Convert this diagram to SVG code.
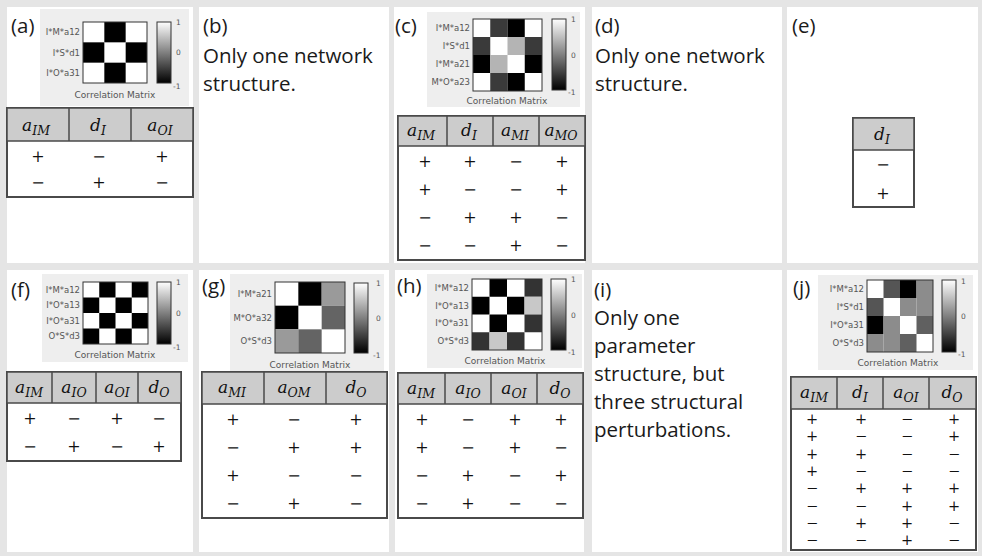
<svg xmlns="http://www.w3.org/2000/svg" width="982" height="556" viewBox="0 0 982 556">
<defs>
<linearGradient id="cb" x1="0" y1="0" x2="0" y2="1">
<stop offset="0" stop-color="#ffffff"/>
<stop offset="0.5" stop-color="#808080"/>
<stop offset="1" stop-color="#000000"/>
</linearGradient>
<style>
.panel{fill:#ffffff}
.cmbg{fill:#eeeeee}
.mat{fill:#ffffff;stroke:none}
.mo{fill:none;stroke:#333;stroke-width:1}
.cbar{fill:url(#cb);stroke:#333;stroke-width:1}
.rl{font-family:"DejaVu Sans",sans-serif;font-size:8.5px;fill:#555;text-anchor:end}
.tk{font-family:"DejaVu Sans",sans-serif;font-size:7.5px;fill:#555}
.cm{font-family:"DejaVu Sans",sans-serif;font-size:9px;fill:#555;text-anchor:middle}
.lab{font-family:"Open Sans","Liberation Sans",sans-serif;font-size:20.5px;fill:#1a1a1a}
.tb{fill:#ffffff;stroke:#4a4a4a;stroke-width:2}
.th{fill:#cccccc;stroke:#4a4a4a;stroke-width:1.5}
.dv{stroke:#4a4a4a;stroke-width:1.5}
.h{font-family:"DejaVu Serif","Liberation Serif",serif;font-style:italic;font-size:17px;fill:#111;text-anchor:middle}
.s{font-size:12.5px}
.v{font-family:"DejaVu Serif","Liberation Serif",serif;font-size:16px;fill:#111;text-anchor:middle}
.vs{font-family:"DejaVu Serif","Liberation Serif",serif;font-size:14.5px;fill:#111;text-anchor:middle}
</style>
</defs>
<rect x="0" y="0" width="982" height="556" fill="#e5e5e5"/>

<!-- (a) -->
<g id="panel-a">
<rect class="panel" x="7" y="7" width="186" height="256"/>
<rect class="cmbg" x="40" y="9" width="149" height="97"/>
<rect class="mat" x="83" y="22" width="64" height="61"/>
<g fill="#000">
<rect x="104.33" y="22" width="21.33" height="20.33"/>
<rect x="83" y="42.33" width="21.33" height="20.33"/>
<rect x="125.67" y="42.33" width="21.33" height="20.33"/>
<rect x="104.33" y="62.67" width="21.33" height="20.33"/>
</g>
<rect class="mo" x="83" y="22" width="64" height="61"/>
<rect class="cbar" x="157" y="22" width="14" height="61"/>
<text class="tk" x="176" y="25">1</text>
<text class="tk" x="176" y="55">0</text>
<text class="tk" x="173" y="89">-1</text>
<text class="rl" x="80" y="35">I*M*a12</text>
<text class="rl" x="80" y="55.5">I*S*d1</text>
<text class="rl" x="80" y="76">I*O*a31</text>
<text class="cm" x="115" y="98">Correlation Matrix</text>
<text class="lab" x="11" y="33">(a)</text>
<rect class="tb" x="7" y="108" width="186" height="89"/>
<rect class="th" x="7" y="108" width="186" height="33"/>
<line class="dv" x1="69" y1="108" x2="69" y2="141"/>
<line class="dv" x1="131" y1="108" x2="131" y2="141"/>
<text class="h" x="36" y="131">a<tspan class="s" dy="4">IM</tspan></text>
<text class="h" x="98" y="131">d<tspan class="s" dy="4">I</tspan></text>
<text class="h" x="160" y="131">a<tspan class="s" dy="4">OI</tspan></text>
<text class="v" x="38" y="162">+</text><text class="v" x="99" y="162">−</text><text class="v" x="162" y="162">+</text>
<text class="v" x="38" y="188">−</text><text class="v" x="99" y="188">+</text><text class="v" x="162" y="188">−</text>
</g>

<!-- (b) -->
<g id="panel-b">
<rect class="panel" x="199" y="7" width="190" height="256"/>
<text class="lab" x="203" y="33">(b)</text>
<text class="lab" x="203" y="63">Only one network</text>
<text class="lab" x="203" y="91">structure.</text>
</g>

<!-- (c) -->
<g id="panel-c">
<rect class="panel" x="394" y="7" width="191" height="256"/>
<rect class="cmbg" x="427" y="12" width="153" height="95"/>
<rect class="mat" x="473" y="19" width="69" height="72"/>
<rect x="490.25" y="19" width="17.25" height="18" fill="#3a3a3a"/>
<rect x="507.5" y="19" width="17.25" height="18" fill="#000"/>
<rect x="473" y="37" width="17.25" height="18" fill="#3a3a3a"/>
<rect x="507.5" y="37" width="17.25" height="18" fill="#b4b4b4"/>
<rect x="524.75" y="37" width="17.25" height="18" fill="#3a3a3a"/>
<rect x="473" y="55" width="17.25" height="18" fill="#000"/>
<rect x="490.25" y="55" width="17.25" height="18" fill="#b4b4b4"/>
<rect x="524.75" y="55" width="17.25" height="18" fill="#000"/>
<rect x="490.25" y="73" width="17.25" height="18" fill="#3a3a3a"/>
<rect x="507.5" y="73" width="17.25" height="18" fill="#000"/>
<rect class="mo" x="473" y="19" width="69" height="72"/>
<rect class="cbar" x="552" y="19" width="14" height="71"/>
<text class="tk" x="571" y="22">1</text>
<text class="tk" x="571" y="58">0</text>
<text class="tk" x="568" y="95">-1</text>
<text class="rl" x="470" y="31">I*M*a12</text>
<text class="rl" x="470" y="49">I*S*d1</text>
<text class="rl" x="470" y="67">I*M*a21</text>
<text class="rl" x="470" y="85">M*O*a23</text>
<text class="cm" x="507" y="104">Correlation Matrix</text>
<text class="lab" x="395" y="33">(c)</text>
<rect class="tb" x="398" y="116" width="187" height="144"/>
<rect class="th" x="398" y="116" width="187" height="30"/>
<line class="dv" x1="447" y1="116" x2="447" y2="146"/>
<line class="dv" x1="493" y1="116" x2="493" y2="146"/>
<line class="dv" x1="539" y1="116" x2="539" y2="146"/>
<text class="h" x="421" y="136">a<tspan class="s" dy="4">IM</tspan></text>
<text class="h" x="469" y="136">d<tspan class="s" dy="4">I</tspan></text>
<text class="h" x="515" y="136">a<tspan class="s" dy="4">MI</tspan></text>
<text class="h" x="561" y="136">a<tspan class="s" dy="4">MO</tspan></text>
<text class="v" x="425" y="167">+</text><text class="v" x="470" y="167">+</text><text class="v" x="516" y="167">−</text><text class="v" x="562" y="167">+</text>
<text class="v" x="425" y="195">+</text><text class="v" x="470" y="195">−</text><text class="v" x="516" y="195">−</text><text class="v" x="562" y="195">+</text>
<text class="v" x="425" y="223">−</text><text class="v" x="470" y="223">+</text><text class="v" x="516" y="223">+</text><text class="v" x="562" y="223">−</text>
<text class="v" x="425" y="251">−</text><text class="v" x="470" y="251">−</text><text class="v" x="516" y="251">+</text><text class="v" x="562" y="251">−</text>
</g>

<!-- (d) -->
<g id="panel-d">
<rect class="panel" x="592" y="7" width="190" height="256"/>
<text class="lab" x="595" y="33">(d)</text>
<text class="lab" x="595" y="63">Only one network</text>
<text class="lab" x="595" y="91">structure.</text>
</g>

<!-- (e) -->
<g id="panel-e">
<rect class="panel" x="787" y="7" width="191" height="256"/>
<text class="lab" x="792" y="33">(e)</text>
<rect class="tb" x="853" y="118" width="61" height="89"/>
<rect class="th" x="853" y="118" width="61" height="32"/>
<text class="h" x="882" y="140">d<tspan class="s" dy="4">I</tspan></text>
<text class="v" x="883" y="170">−</text>
<text class="v" x="883" y="199">+</text>
</g>

<!-- (f) -->
<g id="panel-f">
<rect class="panel" x="7" y="270" width="186" height="282"/>
<rect class="cmbg" x="42" y="274" width="146" height="88"/>
<rect class="mat" x="83" y="282" width="65" height="62"/>
<g fill="#000">
<rect x="99.25" y="282" width="16.25" height="15.5"/><rect x="131.75" y="282" width="16.25" height="15.5"/>
<rect x="83" y="297.5" width="16.25" height="15.5"/><rect x="115.5" y="297.5" width="16.25" height="15.5"/>
<rect x="99.25" y="313" width="16.25" height="15.5"/><rect x="131.75" y="313" width="16.25" height="15.5"/>
<rect x="83" y="328.5" width="16.25" height="15.5"/><rect x="115.5" y="328.5" width="16.25" height="15.5"/>
</g>
<rect class="mo" x="83" y="282" width="65" height="62"/>
<rect class="cbar" x="157" y="282" width="14" height="62"/>
<text class="tk" x="176" y="285">1</text>
<text class="tk" x="176" y="316">0</text>
<text class="tk" x="173" y="350">-1</text>
<text class="rl" x="80" y="292.8">I*M*a12</text>
<text class="rl" x="80" y="308.3">I*O*a13</text>
<text class="rl" x="80" y="323.8">I*O*a31</text>
<text class="rl" x="80" y="339.3">O*S*d3</text>
<text class="cm" x="115" y="358">Correlation Matrix</text>
<text class="lab" x="11" y="297">(f)</text>
<rect class="tb" x="7" y="372" width="174" height="89"/>
<rect class="th" x="7" y="372" width="174" height="31"/>
<line class="dv" x1="52" y1="372" x2="52" y2="403"/>
<line class="dv" x1="96" y1="372" x2="96" y2="403"/>
<line class="dv" x1="138" y1="372" x2="138" y2="403"/>
<text class="h" x="29" y="393">a<tspan class="s" dy="4">IM</tspan></text>
<text class="h" x="74" y="393">a<tspan class="s" dy="4">IO</tspan></text>
<text class="h" x="117" y="393">a<tspan class="s" dy="4">OI</tspan></text>
<text class="h" x="159" y="393">d<tspan class="s" dy="4">O</tspan></text>
<text class="v" x="30" y="424">+</text><text class="v" x="74" y="424">−</text><text class="v" x="117" y="424">+</text><text class="v" x="159" y="424">−</text>
<text class="v" x="30" y="452">−</text><text class="v" x="74" y="452">+</text><text class="v" x="117" y="452">−</text><text class="v" x="159" y="452">+</text>
</g>

<!-- (g) -->
<g id="panel-g">
<rect class="panel" x="199" y="270" width="190" height="282"/>
<rect class="cmbg" x="230" y="274" width="154" height="98"/>
<rect class="mat" x="275" y="282" width="70" height="71"/>
<rect x="298.33" y="282" width="23.33" height="23.67" fill="#000"/>
<rect x="321.67" y="282" width="23.33" height="23.67" fill="#9a9a9a"/>
<rect x="275" y="305.67" width="23.33" height="23.67" fill="#000"/>
<rect x="321.67" y="305.67" width="23.33" height="23.67" fill="#646464"/>
<rect x="275" y="329.33" width="23.33" height="23.67" fill="#9a9a9a"/>
<rect x="298.33" y="329.33" width="23.33" height="23.67" fill="#646464"/>
<rect class="mo" x="275" y="282" width="70" height="71"/>
<rect class="cbar" x="354" y="283" width="14" height="70"/>
<text class="tk" x="376" y="286">1</text>
<text class="tk" x="376" y="321">0</text>
<text class="tk" x="373" y="358">-1</text>
<text class="rl" x="272" y="296.8">I*M*a21</text>
<text class="rl" x="272" y="320.5">M*O*a32</text>
<text class="rl" x="272" y="344.2">O*S*d3</text>
<text class="cm" x="310" y="368">Correlation Matrix</text>
<text class="lab" x="202" y="293">(g)</text>
<rect class="tb" x="202" y="372" width="185" height="146"/>
<rect class="th" x="202" y="372" width="185" height="32"/>
<line class="dv" x1="264" y1="372" x2="264" y2="404"/>
<line class="dv" x1="326" y1="372" x2="326" y2="404"/>
<text class="h" x="232" y="393">a<tspan class="s" dy="4">MI</tspan></text>
<text class="h" x="294" y="393">a<tspan class="s" dy="4">OM</tspan></text>
<text class="h" x="356" y="393">d<tspan class="s" dy="4">O</tspan></text>
<text class="v" x="233" y="425">+</text><text class="v" x="294" y="425">−</text><text class="v" x="356" y="425">+</text>
<text class="v" x="233" y="453">−</text><text class="v" x="294" y="453">+</text><text class="v" x="356" y="453">+</text>
<text class="v" x="233" y="481">+</text><text class="v" x="294" y="481">−</text><text class="v" x="356" y="481">−</text>
<text class="v" x="233" y="509">−</text><text class="v" x="294" y="509">+</text><text class="v" x="356" y="509">−</text>
</g>

<!-- (h) -->
<g id="panel-h">
<rect class="panel" x="395" y="270" width="189" height="282"/>
<rect class="cmbg" x="427" y="274" width="155" height="94"/>
<rect class="mat" x="472" y="279" width="70" height="71"/>
<rect x="489.5" y="279" width="17.5" height="17.75" fill="#000"/>
<rect x="524.5" y="279" width="17.5" height="17.75" fill="#333"/>
<rect x="472" y="296.75" width="17.5" height="17.75" fill="#000"/>
<rect x="507" y="296.75" width="17.5" height="17.75" fill="#000"/>
<rect x="524.5" y="296.75" width="17.5" height="17.75" fill="#c8c8c8"/>
<rect x="489.5" y="314.5" width="17.5" height="17.75" fill="#000"/>
<rect x="524.5" y="314.5" width="17.5" height="17.75" fill="#333"/>
<rect x="472" y="332.25" width="17.5" height="17.75" fill="#333"/>
<rect x="489.5" y="332.25" width="17.5" height="17.75" fill="#c8c8c8"/>
<rect x="507" y="332.25" width="17.5" height="17.75" fill="#333"/>
<rect class="mo" x="472" y="279" width="70" height="71"/>
<rect class="cbar" x="551" y="279" width="15" height="71"/>
<text class="tk" x="571" y="282">1</text>
<text class="tk" x="571" y="318">0</text>
<text class="tk" x="568" y="355">-1</text>
<text class="rl" x="469" y="290.9">I*M*a12</text>
<text class="rl" x="469" y="308.6">I*O*a13</text>
<text class="rl" x="469" y="326.4">I*O*a31</text>
<text class="rl" x="469" y="344.1">O*S*d3</text>
<text class="cm" x="505" y="364">Correlation Matrix</text>
<text class="lab" x="397" y="293">(h)</text>
<rect class="tb" x="398" y="373" width="185" height="145"/>
<rect class="th" x="398" y="373" width="185" height="31"/>
<line class="dv" x1="445" y1="373" x2="445" y2="404"/>
<line class="dv" x1="491" y1="373" x2="491" y2="404"/>
<line class="dv" x1="537" y1="373" x2="537" y2="404"/>
<text class="h" x="421" y="394">a<tspan class="s" dy="4">IM</tspan></text>
<text class="h" x="468" y="394">a<tspan class="s" dy="4">IO</tspan></text>
<text class="h" x="514" y="394">a<tspan class="s" dy="4">OI</tspan></text>
<text class="h" x="560" y="394">d<tspan class="s" dy="4">O</tspan></text>
<text class="v" x="422" y="425">+</text><text class="v" x="468" y="425">−</text><text class="v" x="515" y="425">+</text><text class="v" x="561" y="425">+</text>
<text class="v" x="422" y="453">+</text><text class="v" x="468" y="453">−</text><text class="v" x="515" y="453">+</text><text class="v" x="561" y="453">−</text>
<text class="v" x="422" y="481">−</text><text class="v" x="468" y="481">+</text><text class="v" x="515" y="481">−</text><text class="v" x="561" y="481">+</text>
<text class="v" x="422" y="509">−</text><text class="v" x="468" y="509">+</text><text class="v" x="515" y="509">−</text><text class="v" x="561" y="509">−</text>
</g>

<!-- (i) -->
<g id="panel-i">
<rect class="panel" x="592" y="270" width="190" height="282"/>
<text class="lab" x="594" y="297">(i)</text>
<text class="lab" x="594" y="325">Only one</text>
<text class="lab" x="594" y="353">parameter</text>
<text class="lab" x="594" y="381">structure, but</text>
<text class="lab" x="594" y="409">three structural</text>
<text class="lab" x="594" y="437">perturbations.</text>
</g>

<!-- (j) -->
<g id="panel-j">
<rect class="panel" x="787" y="270" width="191" height="282"/>
<rect class="cmbg" x="818" y="275" width="155" height="95"/>
<rect class="mat" x="867" y="280" width="66" height="72"/>
<rect x="883.5" y="280" width="16.5" height="18" fill="#555"/>
<rect x="900" y="280" width="16.5" height="18" fill="#000"/>
<rect x="916.5" y="280" width="16.5" height="18" fill="#8c8c8c"/>
<rect x="867" y="298" width="16.5" height="18" fill="#555"/>
<rect x="900" y="298" width="16.5" height="18" fill="#8c8c8c"/>
<rect x="916.5" y="298" width="16.5" height="18" fill="#8c8c8c"/>
<rect x="867" y="316" width="16.5" height="18" fill="#000"/>
<rect x="883.5" y="316" width="16.5" height="18" fill="#8c8c8c"/>
<rect x="916.5" y="316" width="16.5" height="18" fill="#606060"/>
<rect x="867" y="334" width="16.5" height="18" fill="#8c8c8c"/>
<rect x="883.5" y="334" width="16.5" height="18" fill="#8c8c8c"/>
<rect x="900" y="334" width="16.5" height="18" fill="#606060"/>
<rect class="mo" x="867" y="280" width="66" height="72"/>
<rect class="cbar" x="942" y="280" width="14" height="72"/>
<text class="tk" x="961" y="284">1</text>
<text class="tk" x="961" y="319">0</text>
<text class="tk" x="958" y="357">-1</text>
<text class="rl" x="864" y="292">I*M*a12</text>
<text class="rl" x="864" y="310">I*S*d1</text>
<text class="rl" x="864" y="328">I*O*a31</text>
<text class="rl" x="864" y="346">O*S*d3</text>
<text class="cm" x="898" y="366">Correlation Matrix</text>
<text class="lab" x="793" y="295">(j)</text>
<rect class="tb" x="791" y="377" width="185" height="173"/>
<rect class="th" x="791" y="377" width="185" height="32"/>
<line class="dv" x1="837" y1="377" x2="837" y2="409"/>
<line class="dv" x1="883" y1="377" x2="883" y2="409"/>
<line class="dv" x1="929" y1="377" x2="929" y2="409"/>
<text class="h" x="814" y="398">a<tspan class="s" dy="4">IM</tspan></text>
<text class="h" x="860" y="398">d<tspan class="s" dy="4">I</tspan></text>
<text class="h" x="906" y="398">a<tspan class="s" dy="4">OI</tspan></text>
<text class="h" x="952" y="398">d<tspan class="s" dy="4">O</tspan></text>
<text class="vs" x="812" y="424">+</text><text class="vs" x="861" y="424">+</text><text class="vs" x="907" y="424">−</text><text class="vs" x="954" y="424">+</text>
<text class="vs" x="812" y="441.3">+</text><text class="vs" x="861" y="441.3">−</text><text class="vs" x="907" y="441.3">−</text><text class="vs" x="954" y="441.3">+</text>
<text class="vs" x="812" y="458.6">+</text><text class="vs" x="861" y="458.6">+</text><text class="vs" x="907" y="458.6">−</text><text class="vs" x="954" y="458.6">−</text>
<text class="vs" x="812" y="475.9">+</text><text class="vs" x="861" y="475.9">−</text><text class="vs" x="907" y="475.9">−</text><text class="vs" x="954" y="475.9">−</text>
<text class="vs" x="812" y="493.2">−</text><text class="vs" x="861" y="493.2">+</text><text class="vs" x="907" y="493.2">+</text><text class="vs" x="954" y="493.2">+</text>
<text class="vs" x="812" y="510.5">−</text><text class="vs" x="861" y="510.5">−</text><text class="vs" x="907" y="510.5">+</text><text class="vs" x="954" y="510.5">+</text>
<text class="vs" x="812" y="527.8">−</text><text class="vs" x="861" y="527.8">+</text><text class="vs" x="907" y="527.8">+</text><text class="vs" x="954" y="527.8">−</text>
<text class="vs" x="812" y="545.1">−</text><text class="vs" x="861" y="545.1">−</text><text class="vs" x="907" y="545.1">+</text><text class="vs" x="954" y="545.1">−</text>
</g>
</svg>
